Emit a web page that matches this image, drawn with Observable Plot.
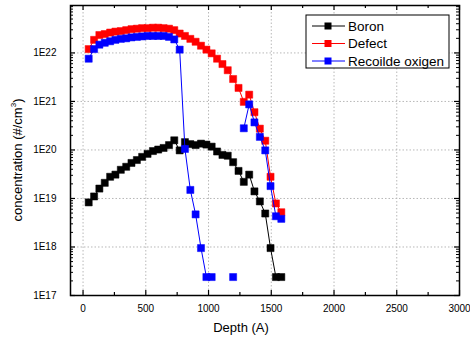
<!DOCTYPE html>
<html><head><meta charset="utf-8">
<script src="https://cdn.jsdelivr.net/npm/d3@7"></script>
<script src="https://cdn.jsdelivr.net/npm/@observablehq/plot@0.6"></script>
<style>body{margin:0;background:#fff} #chart{width:470px;height:339px}</style>
</head><body><div id="chart"></div>
<script>
// Depth (A)
const depth = [45,88,130,173,216,258,301,344,386,429,471,514,557,599,642,685,727,770,812,855,897,940,983,1025,1068,1111,1153,1196,1239,1281,1324,1366,1409,1452,1494,1537,1580];
// concentration (#/cm3)
const boron = [8.3e18,1.1e19,1.6e19,2.1e19,2.8e19,3.1e19,3.9e19,4.5e19,5.4e19,6.2e19,7.2e19,8.3e19,9.5e19,1.02e20,1.1e20,1.26e20,1.58e20,9.8e19,1.45e20,1.32e20,1.26e20,1.35e20,1.29e20,1.17e20,9.3e19,7.9e19,7.6e19,5.6e19,3.7e19,2.2e19,3.1e19,1.4e19,8.7e18,4.9e18,9.5e17,2.4e17,2.4e17];
const defect = [1.2e22,1.86e22,2.34e22,2.45e22,2.63e22,2.75e22,2.82e22,2.95e22,3.09e22,3.16e22,3.24e22,3.24e22,3.31e22,3.31e22,3.24e22,3.16e22,2.95e22,2.51e22,2.24e22,1.95e22,1.7e22,1.41e22,1.17e22,9.8e21,7.6e21,5.9e21,4.4e21,2.9e21,1.9e21,9.8e20,1.38e21,6.0e20,2.75e20,1.55e20,2.8e19,7.9e18,5.2e18];
const oxygen = [7.6e21,1.2e22,1.48e22,1.62e22,1.74e22,1.86e22,1.95e22,2.0e22,2.09e22,2.14e22,2.19e22,2.24e22,2.24e22,2.24e22,2.24e22,2.14e22,1.9e22,1.17e22,1.05e20,1.5e19,4.7e18,9.5e17,2.4e17,2.4e17,null,null,null,2.4e17,null,2.8e20,8.7e20,3.7e20,1.86e20,9.8e19,1.8e19,4.3e18,3.8e18];

const seriesNames = ["Boron","Defect","Recoilde oxigen"];
const seriesColors = ["#000000","#ff0000","#0000ff"];
const seriesValues = [boron, defect, oxygen];

const xTicks = [0,500,1000,1500,2000,2500,3000];
const xMinor = [250,750,1250,1750,2250,2750];
const yTicks = [1e17,1e18,1e19,1e20,1e21,1e22];
const yMinor = [];
for (let e = 17; e <= 22; e++) for (let m = 2; m <= 9; m++) { const v = m * Math.pow(10, e); if (v < 9.5e22) yMinor.push(v); }

const W = 470, H = 339, mL = 70, mR = 11, mT = 5, mB = 44;
const iw = W - mL - mR, ih = H - mT - mB;

const series = seriesNames.map((name, i) => ({
  name, color: seriesColors[i],
  rows: depth.map((d, j) => ({depth: d, value: seriesValues[i][j]}))
}));

const font = "Liberation Sans, Arial, Helvetica, sans-serif";

const marks = [
  Plot.ruleX(xTicks.slice(0, -1), {x: d => d, stroke: "#b8b8b8", strokeDasharray: "1.5,2"}),
  Plot.ruleY(yTicks.slice(1), {y: d => d, stroke: "#b8b8b8", strokeDasharray: "1.5,2"}),
];
for (const s of series) {
  marks.push(Plot.line(s.rows, {x: "depth", y: "value", stroke: s.color, strokeWidth: 1}));
  marks.push(Plot.dot(s.rows.filter(r => r.value != null), {x: "depth", y: "value", symbol: "square", r: 4, fill: s.color, stroke: s.color, strokeWidth: 0.5}));
}
marks.push(
  Plot.tickX(xTicks, {x: d => d, insetTop: ih - 5, stroke: "#000", strokeWidth: 1.2}),
  Plot.tickX(xTicks, {x: d => d, insetBottom: ih - 5, stroke: "#000", strokeWidth: 1.2}),
  Plot.tickX(xMinor, {x: d => d, insetTop: ih - 3, stroke: "#000", strokeWidth: 1.2}),
  Plot.tickX(xMinor, {x: d => d, insetBottom: ih - 3, stroke: "#000", strokeWidth: 1.2}),
  Plot.tickY(yTicks, {y: d => d, insetRight: iw - 5, stroke: "#000", strokeWidth: 1.2}),
  Plot.tickY(yTicks, {y: d => d, insetLeft: iw - 5, stroke: "#000", strokeWidth: 1.2}),
  Plot.tickY(yMinor, {y: d => d, insetRight: iw - 3, stroke: "#000", strokeWidth: 1}),
  Plot.tickY(yMinor, {y: d => d, insetLeft: iw - 3, stroke: "#000", strokeWidth: 1}),
  Plot.frame({stroke: "#000", strokeWidth: 1.5})
);

const plot = Plot.plot({
  width: W, height: H,
  marginLeft: mL, marginRight: mR, marginTop: mT, marginBottom: mB,
  style: {fontFamily: font, fontSize: "10px", color: "#000", background: "#fff", overflow: "visible"},
  x: {domain: [-100, 3000], ticks: xTicks, tickFormat: d => String(d), tickSize: 0, tickPadding: 9, label: null},
  y: {type: "log", domain: [1e17, 9.5e22], ticks: yTicks, tickFormat: d => "1E" + Math.round(Math.log10(d)), tickSize: 0, tickPadding: 14, label: null},
  marks
});
document.getElementById("chart").appendChild(plot);

const svg = d3.select(plot);
// axis titles
svg.append("text").attr("x", 241).attr("y", 332)
  .attr("text-anchor", "middle").attr("font-family", font).attr("font-size", 13).attr("fill", "#000")
  .text("Depth (A)");
const yl = svg.append("text").attr("transform", "translate(22,160) rotate(-90)")
  .attr("text-anchor", "middle").attr("font-family", font).attr("font-size", 13).attr("fill", "#000");
yl.append("tspan").text("concentration (#/cm");
yl.append("tspan").attr("font-size", 8).attr("dy", -6).text("3");
yl.append("tspan").attr("dy", 6).text(")");

// legend
const lg = svg.append("g").attr("font-family", font).attr("font-size", 13.5).attr("text-anchor", "start");
lg.append("rect").attr("x", 306).attr("y", 15).attr("width", 143).attr("height", 53)
  .attr("fill", "#fff").attr("stroke", "#000").attr("stroke-width", 1);
series.forEach((s, i) => {
  const cy = 26 + i * 17.5;
  lg.append("line").attr("x1", 312).attr("x2", 345).attr("y1", cy).attr("y2", cy).attr("stroke", s.color).attr("stroke-width", 1);
  lg.append("rect").attr("x", 324.5).attr("y", cy - 3.5).attr("width", 7).attr("height", 7).attr("fill", s.color);
  lg.append("text").attr("x", 348).attr("y", cy).attr("dy", "0.36em").attr("text-anchor", "start").attr("fill", "#000").text(s.name);
});
</script>
</body></html>
